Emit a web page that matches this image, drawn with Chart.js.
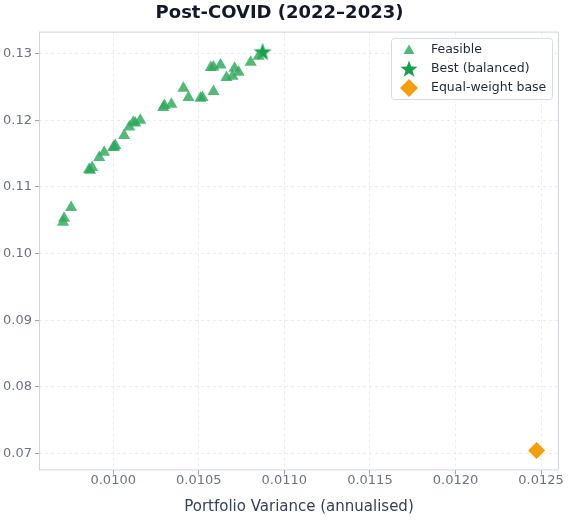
<!DOCTYPE html>
<html>
<head>
<meta charset="utf-8">
<script src="https://cdn.jsdelivr.net/npm/chart.js@4.4.1/dist/chart.umd.min.js"></script>
<style>
  html, body { margin: 0; padding: 0; background: #fff; }
  #wrap { width: 572px; height: 523px; }
</style>
</head>
<body>
<div id="wrap"><canvas id="chart" width="572" height="523"></canvas></div>
<script>
// portfolio variance (x) vs return (y)
const feasibleX = [0.009707, 0.009713, 0.009754, 0.009859, 0.009877, 0.009865, 0.009918, 0.009947,
  0.010000, 0.010012, 0.010006, 0.010064, 0.010094, 0.010117, 0.010129, 0.010158,
  0.010293, 0.010299, 0.010340, 0.010410, 0.010440, 0.010510, 0.010522, 0.010570,
  0.010586, 0.010586, 0.010627, 0.010662, 0.010697, 0.010709, 0.010733, 0.010803, 0.010850];
const feasibleY = [0.1047, 0.1053, 0.1069, 0.1126, 0.1129, 0.1125, 0.1144, 0.1152,
  0.1159, 0.1162, 0.1160, 0.1177, 0.1190, 0.1197, 0.1196, 0.1200,
  0.1219, 0.1222, 0.1224, 0.1248, 0.1234, 0.1233, 0.1234, 0.1279,
  0.1280, 0.1243, 0.1283, 0.1264, 0.1266, 0.1278, 0.1272, 0.1287, 0.1296];
const bestX = [0.010873];
const bestY = [0.1303];
const baseX = [0.012474];
const baseY = [0.07045];

const xTicks = [0.0100, 0.0105, 0.0110, 0.0115, 0.0120, 0.0125];
const yTicks = [0.07, 0.08, 0.09, 0.10, 0.11, 0.12, 0.13];

const toPoints = (xs, ys) => xs.map((x, i) => ({ x: x, y: ys[i] }));

const GREEN = 'rgba(46,170,90,0.82)';
const STAR_GREEN = '#17a04b';
const ORANGE = '#f59e0b';

function starPath(ctx, cx, cy, outer, inner) {
  ctx.beginPath();
  for (let i = 0; i < 10; i++) {
    const r = i % 2 === 0 ? outer : inner;
    const a = -Math.PI / 2 + i * Math.PI / 5;
    const px = cx + r * Math.cos(a), py = cy + r * Math.sin(a);
    if (i === 0) ctx.moveTo(px, py); else ctx.lineTo(px, py);
  }
  ctx.closePath();
}

// star marker as an image, chart.js has no filled star
const starImg = document.createElement('canvas');
starImg.width = 20; starImg.height = 20;
(function () {
  const c = starImg.getContext('2d');
  c.fillStyle = STAR_GREEN;
  starPath(c, 10, 10.8, 9.5, 3.9);
  c.fill();
})();

const framePlugin = {
  id: 'frame',
  afterDatasetsDraw(chart) {
    const { ctx, chartArea: a } = chart;
    ctx.save();
    ctx.strokeStyle = '#d1d5db';
    ctx.lineWidth = 1;
    ctx.strokeRect(a.left + 0.5, a.top + 0.5, a.right - a.left - 1, a.bottom - a.top - 1);

    // legend box in the upper right of the plot
    const bx = 391.5, by = 38.5, bw = 161, bh = 61;
    ctx.fillStyle = 'rgba(255,255,255,0.9)';
    ctx.strokeStyle = '#d8dbe0';
    ctx.beginPath();
    ctx.roundRect(bx, by, bw, bh, 3);
    ctx.fill();
    ctx.stroke();

    const mx = 409, tx = 431;
    const rows = [50, 69, 88];
    // triangle
    ctx.fillStyle = GREEN;
    ctx.beginPath();
    ctx.moveTo(mx, rows[0] - 5.5);
    ctx.lineTo(mx + 5.5, rows[0] + 4);
    ctx.lineTo(mx - 5.5, rows[0] + 4);
    ctx.closePath();
    ctx.fill();
    // star
    ctx.fillStyle = STAR_GREEN;
    starPath(ctx, mx, rows[1] + 0.5, 9, 3.7);
    ctx.fill();
    // diamond
    ctx.fillStyle = ORANGE;
    ctx.beginPath();
    ctx.moveTo(mx, rows[2] - 9);
    ctx.lineTo(mx + 9, rows[2]);
    ctx.lineTo(mx, rows[2] + 9);
    ctx.lineTo(mx - 9, rows[2]);
    ctx.closePath();
    ctx.fill();

    ctx.fillStyle = '#1f2937';
    ctx.font = '12.5px "DejaVu Sans"';
    ctx.textBaseline = 'middle';
    ctx.fillText('Feasible', tx, rows[0]);
    ctx.fillText('Best (balanced)', tx, rows[1]);
    ctx.fillText('Equal-weight base', tx, rows[2]);
    ctx.restore();
  }
};

new Chart(document.getElementById('chart').getContext('2d'), {
  type: 'scatter',
  data: {
    datasets: [
      {
        label: 'Feasible',
        data: toPoints(feasibleX, feasibleY),
        pointStyle: 'triangle',
        pointRadius: 7,
        backgroundColor: GREEN,
        borderColor: GREEN,
        borderWidth: 0
      },
      {
        label: 'Best (balanced)',
        data: toPoints(bestX, bestY),
        pointStyle: starImg,
        pointRadius: 10
      },
      {
        label: 'Equal-weight base',
        data: toPoints(baseX, baseY),
        pointStyle: 'rectRot',
        pointRadius: 8.5,
        backgroundColor: ORANGE,
        borderColor: ORANGE,
        borderWidth: 0
      }
    ]
  },
  options: {
    responsive: false,
    animation: false,
    layout: { padding: { left: 0, right: 13, top: 0, bottom: 7 } },
    plugins: {
      legend: { display: false },
      tooltip: { enabled: false },
      title: {
        display: true,
        text: 'Post-COVID (2022–2023)',
        color: '#111827',
        font: { family: 'DejaVu Sans', size: 18, weight: 'bold' },
        padding: { top: 3, bottom: 7 }
      }
    },
    scales: {
      x: {
        type: 'linear',
        min: 0.009566,
        max: 0.012605,
        afterBuildTicks: s => { s.ticks = xTicks.map(v => ({ value: v })); },
        ticks: {
          color: '#6b7280',
          font: { family: 'DejaVu Sans', size: 13 },
          padding: -2,
          callback: v => v.toFixed(4)
        },
        grid: {
          color: '#ebebeb',
          tickColor: '#9ca3af',
          tickLength: 4,
          drawOnChartArea: true
        },
        border: { display: false, dash: [3, 3] },
        title: {
          display: true,
          text: 'Portfolio Variance (annualised)',
          color: '#374151',
          font: { family: 'DejaVu Sans', size: 15 },
          padding: { top: 12, bottom: 0 }
        }
      },
      y: {
        type: 'linear',
        min: 0.06745,
        max: 0.1333,
        afterBuildTicks: s => { s.ticks = yTicks.map(v => ({ value: v })); },
        ticks: {
          color: '#6b7280',
          font: { family: 'DejaVu Sans', size: 13 },
          padding: 3,
          callback: v => v.toFixed(2)
        },
        grid: {
          color: '#ebebeb',
          tickColor: '#9ca3af',
          tickLength: 4
        },
        border: { display: false, dash: [3, 3] }
      }
    }
  },
  plugins: [framePlugin]
});
</script>
</body>
</html>
